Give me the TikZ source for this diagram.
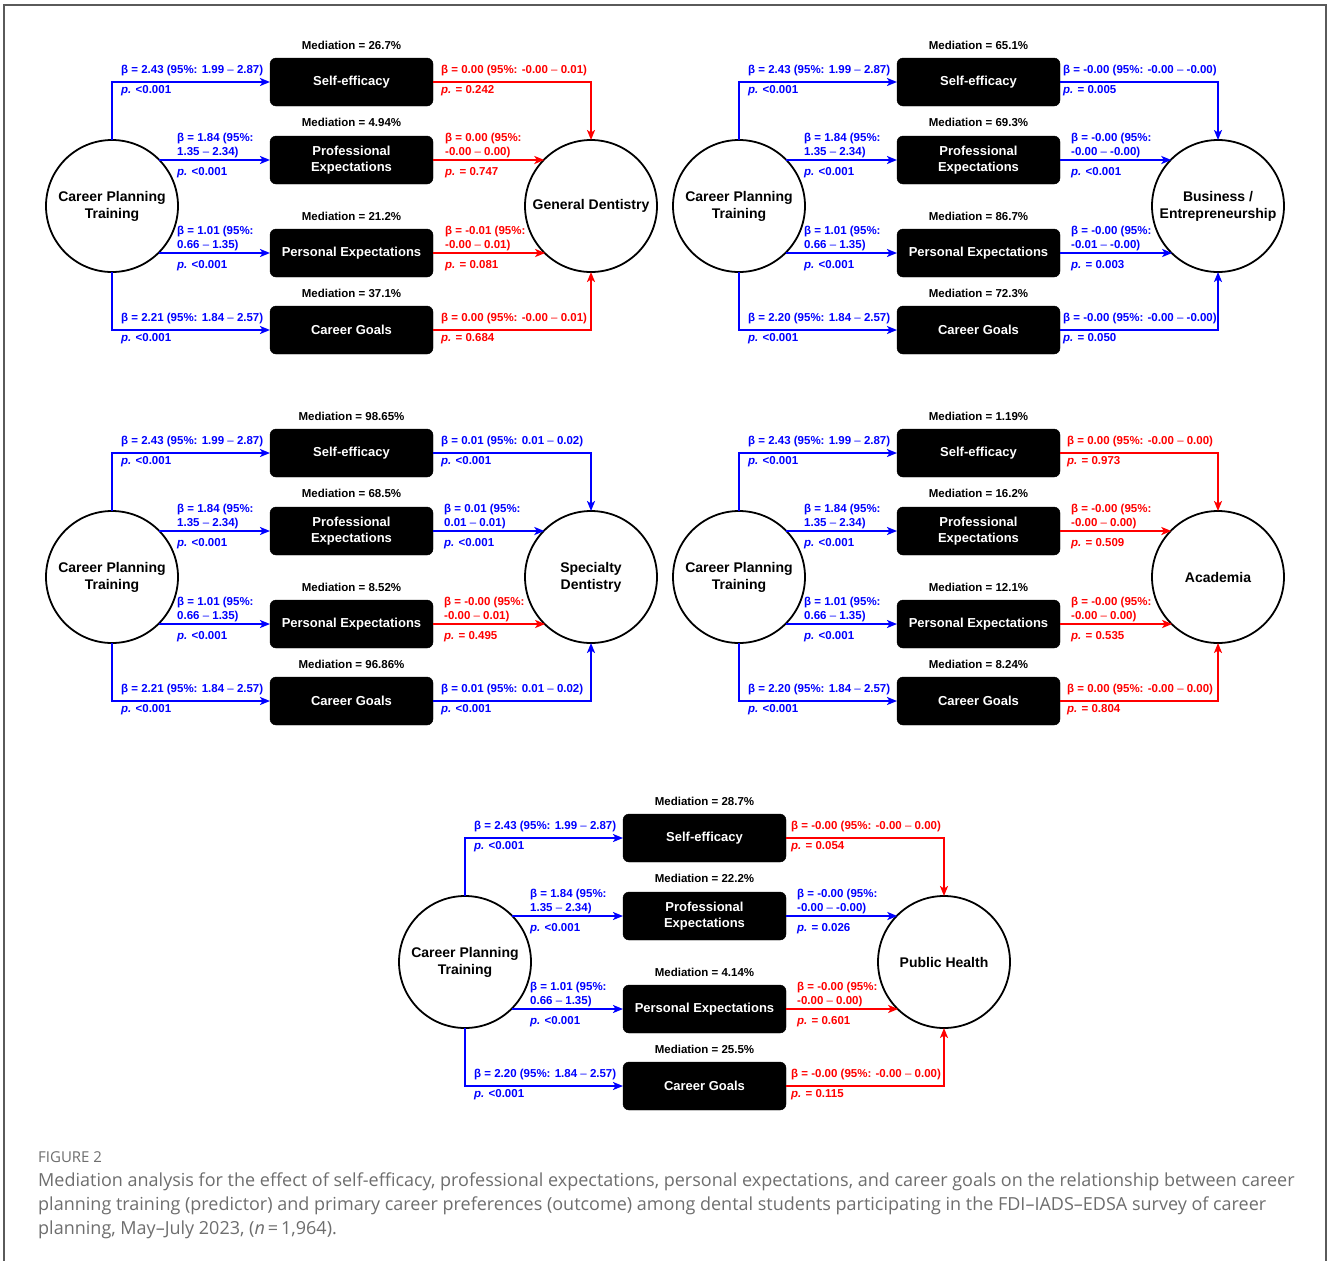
\documentclass[tikz,border=0pt]{standalone}
\usepackage{fontspec}
\setmainfont{Liberation Sans}
\newfontfamily\capfont{Open Sans}
\usetikzlibrary{arrows.meta}
\definecolor{bblue}{HTML}{0000FF}
\definecolor{rred}{HTML}{FF0000}
\definecolor{capgray}{HTML}{6E6E6E}
\definecolor{framegray}{HTML}{5A5A5A}
\newcounter{lblc}
\tikzset{
 circ/.style={circle, draw=black, line width=1.8pt, minimum size=132pt, inner sep=0pt, outer sep=0pt, align=center, font=\fontsize{14}{17}\selectfont\bfseries},
 mbox/.style={rectangle, rounded corners=6pt, fill=black, draw=black, text=white, minimum width=163pt, minimum height=48pt, inner sep=0pt, outer sep=0pt, align=center, font=\fontsize{13}{16}\selectfont\bfseries},
 conn/.style={line width=1.8pt, -{Stealth[length=10pt,width=8pt,inset=2.5pt]}},
 bl/.style={conn, draw=bblue},
 rd/.style={conn, draw=rred},
 medlab/.style={font=\fontsize{11.5}{14}\selectfont\bfseries, inner sep=0pt, text=black},
 vlab/.style={font=\fontsize{11.5}{14}\selectfont\bfseries, inner sep=0pt, anchor=base west},
 captext/.style={font=\capfont\fontsize{18}{24}\selectfont, text=capgray, inner sep=0pt, anchor=base west},
}
\newcommand\PVal[1]{\textit{p.} #1}
\newcommand\Dsh{{\mdseries –}}
\newcommand\LabOne[5]{%
  \stepcounter{lblc}%
  \node[vlab,text=#3] (l\arabic{lblc}a) at (#1,#2-8.5) {#4};
  \node[vlab,text=#3] (l\arabic{lblc}b) at (#1,#2+11.5) {\PVal{#5}};}
\newcommand\LabTwo[6]{%
  \stepcounter{lblc}%
  \node[vlab,text=#3] (l\arabic{lblc}a) at (#1,#2-18.5) {#4};
  \node[vlab,text=#3] (l\arabic{lblc}b) at (#1,#2-4.5) {#5};
  \node[vlab,text=#3] (l\arabic{lblc}c) at (#1,#2+15) {\PVal{#6}};}
\newcommand\PanelCore[2]{%
  \node[circ] (#1cpt) at (112,206) {Career Planning\\Training};
  \node[circ] (#1out) at (591,206) {#2};
  \node[mbox] (#1se) at (351.5,82) {Self-efficacy};
  \node[mbox] (#1pro) at (351.5,160) {Professional\\Expectations};
  \node[mbox] (#1per) at (351.5,253) {Personal Expectations};
  \node[mbox] (#1cg) at (351.5,330) {Career Goals};
  \draw[bl] (#1cpt.north) |- (#1se.west);
  \draw[bl] (#1cpt.44.2 |- #1pro.west) -- (#1pro.west);
  \draw[bl] (#1cpt.-45.4 |- #1per.west) -- (#1per.west);
  \draw[bl] (#1cpt.south) |- (#1cg.west);
  \LabOne{121}{82}{bblue}{β = 2.43 (95\%: 1.99 \Dsh{} 2.87)}{<0.001}
  \LabTwo{177}{160}{bblue}{β = 1.84 (95\%:}{1.35 \Dsh{} 2.34)}{<0.001}
  \LabTwo{177}{253}{bblue}{β = 1.01 (95\%:}{0.66 \Dsh{} 1.35)}{<0.001}
}
\newcommand\PanelMed[5]{%
  \node[medlab] (#1m1) at (351.5,45) {Mediation = #2\%};
  \node[medlab] (#1m2) at (351.5,122) {Mediation = #3\%};
  \node[medlab] (#1m3) at (351.5,216) {Mediation = #4\%};
  \node[medlab] (#1m4) at (351.5,293) {Mediation = #5\%};
}
\newcommand\PanelRight[5]{%
  \draw[#2] (#1se.east) -| (#1out.north);
  \draw[#3] (#1pro.east) -- (#1pro.east -| #1out.135.8);
  \draw[#4] (#1per.east) -- (#1per.east -| #1out.-134.6);
  \draw[#5] (#1cg.east) -| (#1out.south);
}
\begin{document}
\begin{tikzpicture}[x=1pt,y=-1pt]
\fill[white] (0,0) rectangle (1328,1261);
\useasboundingbox (0,0) rectangle (1328,1261);
\draw[framegray, line width=1.3pt] (4,1262) -- (4,5) -- (1326,5) -- (1326,1262);

% Panel 1: General Dentistry
\begin{scope}[shift={(0,0)}]
\PanelCore{a}{General Dentistry}
\PanelMed{a}{26.7}{4.94}{21.2}{37.1}
\LabOne{121}{330}{bblue}{β = 2.21 (95\%: 1.84 \Dsh{} 2.57)}{<0.001}
\PanelRight{a}{rd}{rd}{rd}{rd}
\LabOne{441}{82}{rred}{β = 0.00 (95\%: -0.00 \Dsh{} 0.01)}{= 0.242}
\LabTwo{445}{160}{rred}{β = 0.00 (95\%:}{-0.00 \Dsh{} 0.00)}{= 0.747}
\LabTwo{445}{253}{rred}{β = -0.01 (95\%:}{-0.00 \Dsh{} 0.01)}{= 0.081}
\LabOne{441}{330}{rred}{β = 0.00 (95\%: -0.00 \Dsh{} 0.01)}{= 0.684}
\end{scope}

% Panel 2: Business / Entrepreneurship
\begin{scope}[shift={(627,0)}]
\PanelCore{b}{Business /\\Entrepreneurship}
\PanelMed{b}{65.1}{69.3}{86.7}{72.3}
\LabOne{121}{330}{bblue}{β = 2.20 (95\%: 1.84 \Dsh{} 2.57)}{<0.001}
\PanelRight{b}{bl}{bl}{bl}{bl}
\LabOne{436}{82}{bblue}{β = -0.00 (95\%: -0.00 \Dsh{} -0.00)}{= 0.005}
\LabTwo{444}{160}{bblue}{β = -0.00 (95\%:}{-0.00 \Dsh{} -0.00)}{<0.001}
\LabTwo{444}{253}{bblue}{β = -0.00 (95\%:}{-0.01 \Dsh{} -0.00)}{= 0.003}
\LabOne{436}{330}{bblue}{β = -0.00 (95\%: -0.00 \Dsh{} -0.00)}{= 0.050}
\end{scope}

% Panel 3: Specialty Dentistry
\begin{scope}[shift={(0,371)}]
\PanelCore{c}{Specialty\\Dentistry}
\PanelMed{c}{98.65}{68.5}{8.52}{96.86}
\LabOne{121}{330}{bblue}{β = 2.21 (95\%: 1.84 \Dsh{} 2.57)}{<0.001}
\PanelRight{c}{bl}{bl}{rd}{bl}
\LabOne{441}{82}{bblue}{β = 0.01 (95\%: 0.01 \Dsh{} 0.02)}{<0.001}
\LabTwo{444}{160}{bblue}{β = 0.01 (95\%:}{0.01 \Dsh{} 0.01)}{<0.001}
\LabTwo{444}{253}{rred}{β = -0.00 (95\%:}{-0.00 \Dsh{} 0.01)}{= 0.495}
\LabOne{441}{330}{bblue}{β = 0.01 (95\%: 0.01 \Dsh{} 0.02)}{<0.001}
\end{scope}

% Panel 4: Academia
\begin{scope}[shift={(627,371)}]
\PanelCore{d}{Academia}
\PanelMed{d}{1.19}{16.2}{12.1}{8.24}
\LabOne{121}{330}{bblue}{β = 2.20 (95\%: 1.84 \Dsh{} 2.57)}{<0.001}
\PanelRight{d}{rd}{rd}{rd}{rd}
\LabOne{440}{82}{rred}{β = 0.00 (95\%: -0.00 \Dsh{} 0.00)}{= 0.973}
\LabTwo{444}{160}{rred}{β = -0.00 (95\%:}{-0.00 \Dsh{} 0.00)}{= 0.509}
\LabTwo{444}{253}{rred}{β = -0.00 (95\%:}{-0.00 \Dsh{} 0.00)}{= 0.535}
\LabOne{440}{330}{rred}{β = 0.00 (95\%: -0.00 \Dsh{} 0.00)}{= 0.804}
\end{scope}

% Panel 5: Public Health
\begin{scope}[shift={(353,756)}]
\PanelCore{e}{Public Health}
\PanelMed{e}{28.7}{22.2}{4.14}{25.5}
\LabOne{121}{330}{bblue}{β = 2.20 (95\%: 1.84 \Dsh{} 2.57)}{<0.001}
\PanelRight{e}{rd}{bl}{rd}{rd}
\LabOne{438}{82}{rred}{β = -0.00 (95\%: -0.00 \Dsh{} 0.00)}{= 0.054}
\LabTwo{444}{160}{bblue}{β = -0.00 (95\%:}{-0.00 \Dsh{} -0.00)}{= 0.026}
\LabTwo{444}{253}{rred}{β = -0.00 (95\%:}{-0.00 \Dsh{} 0.00)}{= 0.601}
\LabOne{438}{330}{rred}{β = -0.00 (95\%: -0.00 \Dsh{} 0.00)}{= 0.115}
\end{scope}

% Caption
\node[captext, font=\capfont\fontsize{15}{17}\selectfont] (figlab) at (38,1162) {FIGURE 2};
\node[captext] (cap1) at (38,1186) {Mediation analysis for the effect of self-efficacy, professional expectations, personal expectations, and career goals on the relationship between career};
\node[captext] (cap2) at (38,1210) {planning training (predictor) and primary career preferences (outcome) among dental students participating in the FDI–IADS–EDSA survey of career};
\node[captext] (cap3) at (38,1234) {planning, May–July 2023, (\textit{n}\,=\,1,964).};
\end{tikzpicture}
\end{document}
